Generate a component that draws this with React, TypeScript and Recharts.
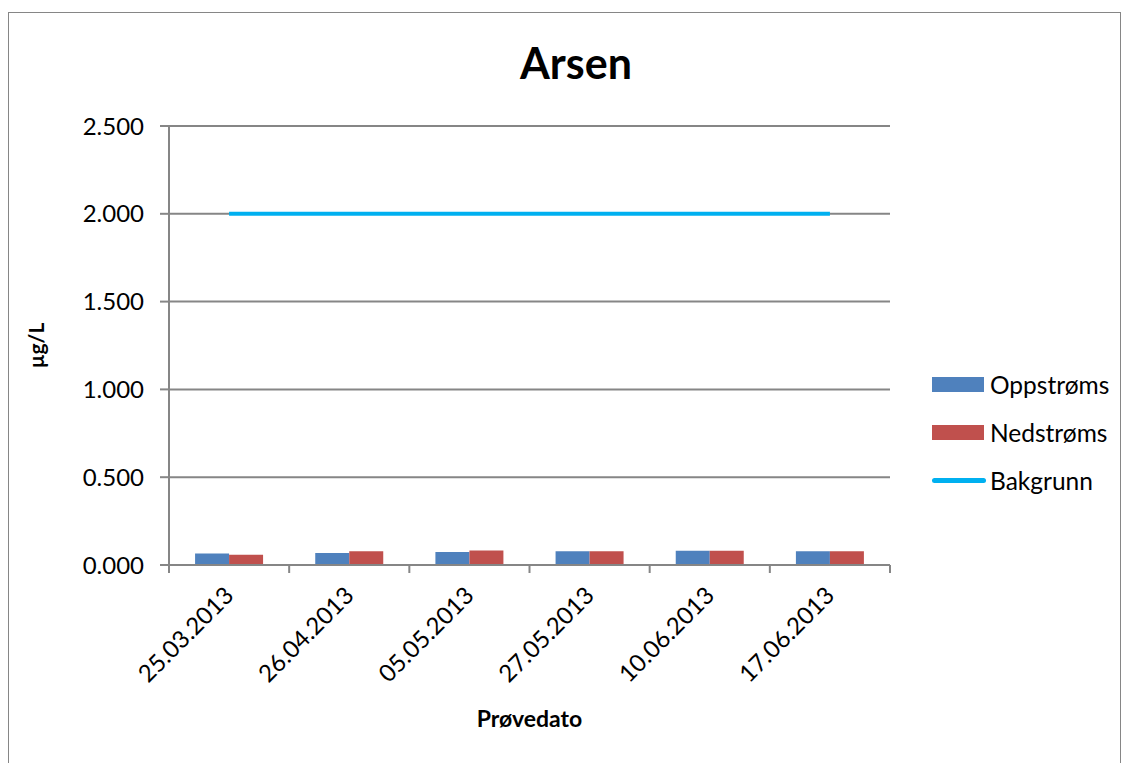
import { ComposedChart, Bar, Line, XAxis, YAxis, CartesianGrid, Legend, Label } from 'recharts';

const dates = ['25.03.2013', '26.04.2013', '05.05.2013', '27.05.2013', '10.06.2013', '17.06.2013'];
const oppstroms = [0.066, 0.068, 0.074, 0.079, 0.081, 0.078];
const nedstroms = [0.059, 0.078, 0.083, 0.078, 0.081, 0.078];
const bakgrunn = [2, 2, 2, 2, 2, 2];
const yTicks = [0, 0.5, 1, 1.5, 2, 2.5];
const seriesNames = ['Oppstrøms', 'Nedstrøms', 'Bakgrunn'];

const data = dates.map((d, i) => ({
  date: d,
  oppstroms: oppstroms[i],
  nedstroms: nedstroms[i],
  bakgrunn: bakgrunn[i],
}));

const W = 1131;
const H = 763;
const PLOT_LEFT = 169;
const PLOT_RIGHT = 890;
const PLOT_TOP = 126;
const PLOT_BOTTOM = 565;
const Y_AXIS_W = 149;

const GRAY = '#868686';
const FONT = 'Lato, "Open Sans", sans-serif';

// date labels at 45°, plus tick marks on the category boundaries
function DateTick(props: any) {
  const { x, y, payload, index } = props;
  const half = (PLOT_RIGHT - PLOT_LEFT) / dates.length / 2;
  return (
    <g>
      <line x1={x - half} x2={x - half} y1={y} y2={y + 8} stroke={GRAY} strokeWidth={2} />
      {index === dates.length - 1 && (
        <line x1={x + half} x2={x + half} y1={y} y2={y + 8} stroke={GRAY} strokeWidth={2} />
      )}
      <text
        transform={`translate(${x + 6},${y + 32}) rotate(-45)`}
        textAnchor="end"
        fontSize={24}
        fill="#000"
        fontFamily={FONT}
      >
        {payload.value}
      </text>
    </g>
  );
}

function renderLegend(props: any) {
  const items = [...(props.payload || [])].sort(
    (a: any, b: any) => seriesNames.indexOf(a.value) - seriesNames.indexOf(b.value)
  );
  return (
    <div style={{ fontFamily: FONT, fontSize: 24.5, color: '#000' }}>
      {items.map((item: any) => (
        <div key={item.value} style={{ display: 'flex', alignItems: 'center', height: 48 }}>
          {item.type === 'line' ? (
            <div style={{ width: 54, height: 5, borderRadius: 2.5, background: item.color, marginRight: 4 }} />
          ) : (
            <div style={{ width: 52, height: 15, background: item.color, marginRight: 6 }} />
          )}
          <span>{item.value}</span>
        </div>
      ))}
    </div>
  );
}

export default function App() {
  return (
    <div style={{ position: 'absolute', left: 0, top: 0, width: W, height: H, overflow: 'hidden', background: '#fff' }}>
      <div
        style={{
          position: 'absolute',
          left: 8,
          top: 12,
          width: 1113,
          height: H - 12,
          border: `1px solid ${GRAY}`,
          borderBottom: 'none',
          boxSizing: 'border-box',
        }}
      />
      <div
        style={{
          position: 'absolute',
          left: 476,
          width: 200,
          top: 38,
          textAlign: 'center',
          fontFamily: FONT,
          fontWeight: 'bold',
          fontSize: 43,
          lineHeight: '50px',
          color: '#000',
        }}
      >
        Arsen
      </div>
      <div style={{ position: 'absolute', left: 0, top: 0 }}>
        <ComposedChart
          width={W}
          height={H}
          data={data}
          margin={{ top: PLOT_TOP, left: PLOT_LEFT - Y_AXIS_W, right: W - PLOT_RIGHT, bottom: 0 }}
          barCategoryGap="21.7%"
          barGap={0}
        >
          <CartesianGrid vertical={false} stroke={GRAY} strokeWidth={2} />
          <XAxis
            dataKey="date"
            interval={0}
            height={H - PLOT_BOTTOM}
            axisLine={{ stroke: GRAY, strokeWidth: 2 }}
            tickLine={false}
            tickSize={0}
            tickMargin={0}
            tick={<DateTick />}
          >
            <Label
              content={() => (
                <text
                  x={PLOT_LEFT + (PLOT_RIGHT - PLOT_LEFT) / 2}
                  y={727}
                  textAnchor="middle"
                  fontFamily={FONT}
                  fontWeight="bold"
                  fontSize={23}
                  fill="#000"
                >
                  Prøvedato
                </text>
              )}
            />
          </XAxis>
          <YAxis
            width={Y_AXIS_W}
            domain={[0, 2.5]}
            ticks={yTicks}
            interval={0}
            axisLine={{ stroke: GRAY, strokeWidth: 2 }}
            tickLine={{ stroke: GRAY, strokeWidth: 2 }}
            tickSize={9}
            tickMargin={16}
            tickFormatter={(v: number) => v.toFixed(3)}
            tick={{ fontSize: 24, fill: '#000', fontFamily: FONT }}
          >
            <Label
              content={() => (
                <text
                  transform={`translate(44,${(PLOT_TOP + PLOT_BOTTOM) / 2}) rotate(-90)`}
                  textAnchor="middle"
                  fontFamily={FONT}
                  fontWeight="bold"
                  fontSize={21}
                  fill="#000"
                >
                  µg/L
                </text>
              )}
            />
          </YAxis>
          <Legend
            layout="vertical"
            align="center"
            verticalAlign="middle"
            content={renderLegend}
            wrapperStyle={{ left: 932, top: 360, width: 195 }}
          />
          <Bar dataKey="oppstroms" name="Oppstrøms" fill="#4f81bd" isAnimationActive={false} />
          <Bar dataKey="nedstroms" name="Nedstrøms" fill="#c0504d" isAnimationActive={false} />
          <Line
            dataKey="bakgrunn"
            name="Bakgrunn"
            type="linear"
            stroke="#00b0f0"
            strokeWidth={4}
            dot={false}
            activeDot={false}
            legendType="line"
            isAnimationActive={false}
          />
        </ComposedChart>
      </div>
    </div>
  );
}
